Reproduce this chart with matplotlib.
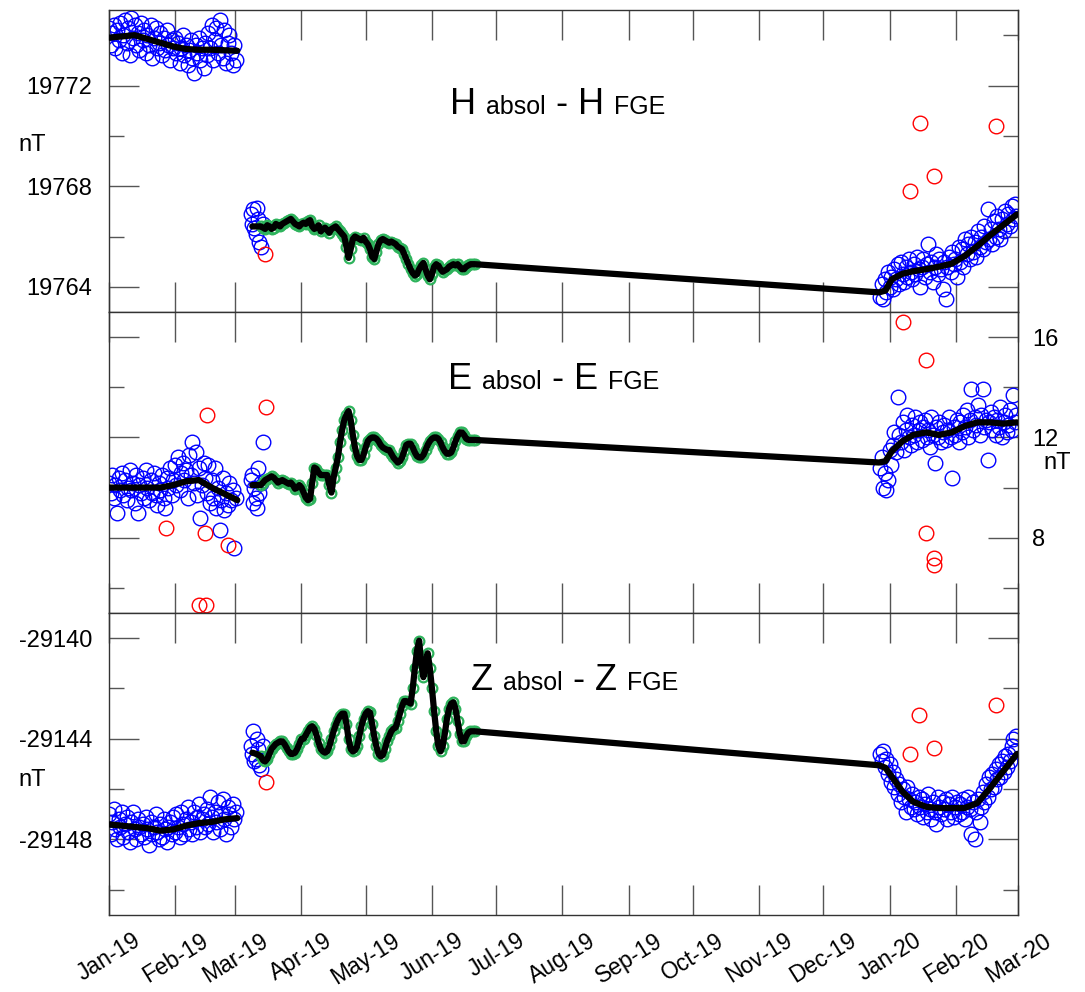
import datetime as dt
import numpy as np
import matplotlib
matplotlib.use('Agg')
import matplotlib.pyplot as plt
import matplotlib.dates as mdates
from matplotlib.ticker import MultipleLocator
from matplotlib import transforms

plt.rcParams['font.family'] = ['Liberation Sans', 'DejaVu Sans']

START = dt.datetime(2019, 1, 1)
END = dt.datetime(2020, 3, 1)

# observation times, in days since 1 Jan 2019
days_a = np.arange(0, 59.5, 0.75)          # Jan-Feb 2019 absolute obs (80)
days_b = [66.5, 67, 67.5, 68, 68.5, 69, 69.5, 70, 71, 72]
days_c = np.arange(360.5, 424.5, 0.75)     # Jan-Feb 2020 absolute obs (86)
days_green = np.arange(71, 172)            # daily baseline Mar-Jun 2019 (101)
days_pre = [67, 69]
days_fit_a = [0, 6, 12, 18, 24, 30, 36, 42, 48, 54, 60]
days_fit_c = [360, 363, 366, 371, 376, 382, 388, 394, 400, 406, 412, 418, 424.5]

# ---------------- H ----------------
h_a = [19774.3, 19773.6, 19774.1, 19774.4, 19773.5, 19774.2, 19773.8, 19774.5, 19773.3, 19774.0, 19774.6,
       19773.7, 19774.3, 19773.2, 19774.7, 19773.9, 19774.4, 19773.6, 19774.1, 19773.4, 19774.5,
       19773.8, 19774.2, 19773.3, 19774.0, 19773.6, 19774.4, 19773.1, 19773.9, 19774.3, 19773.5,
       19773.7, 19774.1, 19773.2, 19773.9, 19773.4, 19774.2, 19773.6, 19773.0, 19773.8, 19773.5,
       19773.9, 19773.3, 19773.7, 19772.9, 19773.5, 19774.0, 19773.2, 19773.6, 19772.8, 19773.4,
       19773.8, 19773.1, 19772.5, 19773.6, 19773.3, 19773.9, 19773.0, 19773.5, 19772.7, 19773.7,
       19773.2, 19774.1, 19773.5, 19774.4, 19773.0, 19773.8, 19774.3, 19773.3, 19774.6, 19773.6,
       19773.1, 19774.2, 19772.9, 19773.7, 19774.0, 19773.3, 19772.8, 19773.6, 19773.0]
h_b = [19766.9, 19766.5, 19767.1, 19766.35, 19766.1, 19767.15, 19766.7, 19765.8, 19765.6, 19766.5]
h_c = [19763.6, 19764.1, 19763.5, 19764.3, 19763.8, 19764.6, 19764.0, 19764.4, 19763.9, 19764.7,
       19764.3, 19764.9, 19764.1, 19765.0, 19764.5, 19764.2, 19764.8, 19764.4, 19765.1, 19764.6,
       19764.3, 19764.9, 19764.5, 19765.2, 19764.7, 19764.0, 19764.8, 19765.1, 19764.4, 19764.9,
       19765.7, 19764.6, 19765.0, 19764.2, 19764.8, 19765.3, 19764.5, 19765.1, 19764.7, 19763.9,
       19765.0, 19763.5, 19764.8, 19765.2, 19764.6, 19765.4, 19764.9, 19765.1, 19764.4, 19765.6,
       19765.0, 19765.5, 19764.8, 19765.9, 19765.3, 19765.7, 19765.1, 19766.0, 19765.4, 19765.8,
       19765.2, 19766.2, 19765.6, 19766.0, 19765.5, 19766.4, 19765.8, 19767.1, 19765.9, 19766.3,
       19765.7, 19766.6, 19766.0, 19766.8, 19766.3, 19765.9, 19766.7, 19766.2, 19767.0, 19766.5,
       19766.9, 19766.4, 19767.2, 19766.7, 19767.3, 19766.8]
h_green = [19766.4, 19766.35, 19766.3, 19766.45, 19766.4, 19766.3, 19766.35, 19766.5, 19766.45, 19766.4,
           19766.5, 19766.55, 19766.6, 19766.65, 19766.7, 19766.6, 19766.5, 19766.45, 19766.4, 19766.5,
           19766.55, 19766.5, 19766.6, 19766.65, 19766.4, 19766.3, 19766.35, 19766.45, 19766.2, 19766.3,
           19766.35, 19766.25, 19766.15, 19766.3, 19766.35, 19766.4, 19766.3, 19766.2, 19766.1, 19766.0,
           19765.6, 19765.15, 19765.5, 19765.9, 19766.0, 19765.95, 19765.9, 19765.85, 19765.95, 19765.8,
           19765.7, 19765.5, 19765.2, 19765.1, 19765.4, 19765.7, 19765.85, 19765.9, 19765.85, 19765.8,
           19765.75, 19765.8, 19765.75, 19765.7, 19765.6, 19765.55, 19765.5, 19765.3, 19765.1, 19764.9,
           19764.7, 19764.55, 19764.45, 19764.5, 19764.7, 19764.85, 19764.95, 19764.7, 19764.45, 19764.3,
           19764.5, 19764.8, 19764.9, 19764.85, 19764.7, 19764.6, 19764.65, 19764.7, 19764.8, 19764.85,
           19764.9, 19764.85, 19764.9, 19764.8, 19764.7, 19764.7, 19764.8, 19764.85, 19764.9, 19764.9, 19764.9]
h_pre = [19766.4, 19766.4]
h_fit_a = [19773.9, 19773.95, 19774.0, 19773.85, 19773.7, 19773.55, 19773.45, 19773.42, 19773.42, 19773.4, 19773.38]
h_fit_c = [19763.78, 19763.85, 19764.3, 19764.52, 19764.62, 19764.7, 19764.8, 19764.92, 19765.22, 19765.62,
           19766.05, 19766.45, 19766.88]
h_red_days = [72.9, 379.1, 374.5, 385.7, 414.7]
h_red = [19765.3, 19770.5, 19767.8, 19768.4, 19770.4]

# ---------------- E ----------------
e_a = [10.2, 9.8, 10.5, 9.6, 10.1, 9.0, 10.4, 9.9, 10.6, 9.7, 10.3,
       9.5, 10.0, 10.7, 9.9, 10.2, 9.4, 10.5, 9.0, 10.1, 9.8,
       10.4, 9.6, 10.7, 10.0, 9.5, 10.3, 9.8, 10.6, 9.7, 9.3,
       10.2, 9.9, 10.5, 9.6, 9.2, 10.4, 10.0, 10.8, 9.7, 10.3,
       10.9, 10.1, 11.2, 9.9, 10.6, 11.0, 10.3, 10.7, 9.6, 11.3,
       10.5, 11.8, 10.2, 11.4, 9.7, 10.8, 8.8, 10.1, 11.0, 10.4,
       9.8, 10.9, 9.4, 10.3, 9.6, 10.8, 9.2, 10.0, 8.3, 9.5,
       10.4, 9.1, 9.8, 9.3, 10.2, 9.5, 9.9, 7.6, 9.6]
e_b = [10.3, 10.5, 9.4, 10.0, 9.6, 9.2, 10.8, 9.8, 10.2, 11.8]
e_c = [10.8, 11.2, 10.0, 10.6, 9.9, 10.3, 11.5, 10.9, 11.7, 12.2,
       11.4, 13.6, 12.1, 11.8, 12.6, 11.5, 12.3, 12.9, 12.0, 11.7,
       12.5, 12.1, 12.8, 11.8, 12.3, 12.6, 11.9, 12.4, 12.7, 12.0,
       12.3, 11.6, 12.8, 12.1, 11.0, 12.4, 12.0, 12.6, 11.8, 12.2,
       12.5, 11.9, 12.3, 12.8, 12.0, 10.4, 12.4, 12.1, 12.7, 11.8,
       12.6, 12.2, 12.9, 12.4, 13.1, 12.0, 12.7, 13.95, 12.3, 12.8,
       12.5, 13.3, 12.1, 12.9, 13.95, 12.4, 12.7, 11.1, 12.6, 13.0,
       12.3, 12.8, 12.1, 12.7, 12.4, 13.2, 12.0, 12.6, 12.9, 12.2,
       12.5, 13.1, 12.3, 13.7, 12.6, 12.9]
e_green = [10.1, 10.2, 10.3, 10.35, 10.4, 10.45, 10.4, 10.3, 10.2, 10.25,
           10.3, 10.25, 10.2, 10.15, 10.2, 10.1, 9.95, 10.0, 10.1, 10.0,
           9.8, 9.6, 9.5, 9.55, 10.2, 10.8, 10.75, 10.6, 10.5, 10.5,
           10.5, 10.5, 10.1, 9.8, 10.4, 10.8, 11.2, 11.8, 12.3, 12.7,
           12.9, 13.05, 12.7, 12.1, 11.6, 11.25, 11.1, 11.1, 11.3, 11.6,
           11.85, 11.95, 12.0, 12.0, 11.95, 11.85, 11.7, 11.6, 11.55, 11.5,
           11.5, 11.35, 11.2, 11.1, 11.0, 11.05, 11.2, 11.45, 11.7, 11.75,
           11.75, 11.6, 11.4, 11.25, 11.2, 11.2, 11.3, 11.5, 11.7, 11.85,
           11.95, 12.0, 12.0, 11.95, 11.8, 11.6, 11.45, 11.35, 11.35, 11.4,
           11.6, 11.85, 12.05, 12.2, 12.2, 12.1, 11.95, 11.9, 11.9, 11.9, 11.9]
e_pre = [10.1, 10.1]
e_fit_a = [10.0, 10.0, 10.0, 10.0, 10.0, 10.1, 10.25, 10.3, 10.0, 9.75, 9.5]
e_fit_c = [11.0, 11.05, 11.45, 11.85, 12.1, 12.2, 12.1, 12.2, 12.45, 12.6, 12.6, 12.55, 12.6]
e_red_days = [26.6, 45.8, 44.9, 55.6, 42.1, 45.3, 73.4, 371.2, 382, 382, 385.7, 385.7]
e_red = [8.4, 12.9, 8.2, 7.7, 5.3, 5.3, 13.2, 16.6, 15.1, 8.2, 7.2, 6.9]

# ---------------- Z ----------------
z_a = [-29147.0, -29147.8, -29147.3, -29146.8, -29147.6, -29148.0, -29147.2, -29147.5, -29146.9, -29147.9, -29147.4,
       -29147.1, -29147.7, -29148.1, -29147.3, -29146.9, -29147.6, -29148.0, -29147.2, -29147.5, -29147.8,
       -29147.4, -29147.9, -29147.1, -29147.6, -29148.2, -29147.3, -29147.8, -29147.5, -29147.0, -29147.7,
       -29148.0, -29147.4, -29147.9, -29147.2, -29147.6, -29148.1, -29147.5, -29147.3, -29147.8, -29147.1,
       -29147.7, -29147.0, -29147.5, -29147.9, -29146.9, -29147.4, -29147.8, -29147.2, -29146.7, -29147.6,
       -29147.3, -29147.8, -29146.9, -29147.5, -29147.1, -29146.6, -29147.7, -29147.2, -29147.0, -29147.5,
       -29146.8, -29147.4, -29146.3, -29147.1, -29147.7, -29146.9, -29147.3, -29146.5, -29147.6, -29147.0,
       -29146.4, -29147.2, -29147.8, -29146.7, -29147.0, -29147.5, -29146.6, -29147.2, -29146.9]
z_b = [-29144.3, -29144.6, -29143.7, -29144.9, -29144.8, -29144.0, -29144.4, -29145.05, -29145.2, -29144.3]
z_c = [-29144.6, -29144.9, -29144.5, -29145.1, -29144.8, -29145.4, -29145.0, -29145.7, -29145.3, -29145.9,
       -29145.6, -29146.2, -29145.8, -29146.5, -29146.0, -29146.3, -29146.9, -29145.9, -29146.4, -29146.7,
       -29146.2, -29146.8, -29146.5, -29147.0, -29146.3, -29146.7, -29146.4, -29147.1, -29146.6, -29146.9,
       -29146.2, -29146.8, -29147.2, -29146.5, -29146.9, -29147.4, -29146.3, -29146.7, -29147.0, -29146.5,
       -29146.8, -29146.4, -29147.2, -29146.6, -29146.9, -29146.3, -29147.1, -29146.7, -29146.5, -29147.0,
       -29146.6, -29146.9, -29146.4, -29147.2, -29146.7, -29146.3, -29146.8, -29147.8, -29146.5, -29148.0,
       -29146.9, -29146.4, -29147.3, -29146.7, -29146.1, -29146.5, -29145.8, -29146.3, -29145.5, -29146.0,
       -29145.4, -29145.9, -29145.2, -29145.6, -29145.0, -29145.5, -29144.9, -29145.3, -29144.7, -29145.1,
       -29144.6, -29144.9, -29144.3, -29144.0, -29144.5, -29143.9]
z_green = [-29144.7, -29144.85, -29144.9, -29144.8, -29144.6, -29144.4, -29144.3, -29144.2, -29144.15, -29144.1,
           -29144.1, -29144.2, -29144.35, -29144.5, -29144.6, -29144.6, -29144.55, -29144.4, -29144.2, -29144.0,
           -29144.0, -29143.85, -29143.7, -29143.55, -29143.5, -29143.6, -29143.85, -29144.15, -29144.4, -29144.5,
           -29144.55, -29144.5, -29144.3, -29144.0, -29143.7, -29143.45, -29143.25, -29143.1, -29143.0, -29143.0,
           -29143.4, -29144.0, -29144.4, -29144.5, -29144.45, -29144.3, -29143.9, -29143.5, -29143.2, -29143.0,
           -29142.9, -29142.95, -29143.4, -29143.9, -29144.3, -29144.6, -29144.7, -29144.65, -29144.4, -29144.1,
           -29143.9, -29143.7, -29143.6, -29143.55, -29143.3, -29143.0, -29142.7, -29142.5, -29142.5, -29142.55,
           -29142.6, -29142.0, -29141.2, -29140.5, -29140.1, -29141.0, -29141.55, -29141.0, -29140.6, -29141.2,
           -29142.0, -29142.9, -29143.7, -29144.3, -29144.5, -29144.3, -29143.8, -29143.2, -29142.8, -29142.6,
           -29142.55, -29142.8, -29143.3, -29143.8, -29144.1, -29144.1, -29143.9, -29143.75, -29143.7, -29143.7, -29143.7]
z_pre = [-29144.55, -29144.6]
z_fit_a = [-29147.4, -29147.45, -29147.5, -29147.55, -29147.65, -29147.6, -29147.45, -29147.35, -29147.3, -29147.2, -29147.15]
z_fit_c = [-29145.05, -29145.15, -29145.5, -29146.1, -29146.5, -29146.7, -29146.75, -29146.75, -29146.75,
           -29146.55, -29145.95, -29145.3, -29144.6]
z_red_days = [73.4, 378.7, 374.5, 385.7, 414.7]
z_red = [-29145.7, -29143.05, -29144.6, -29144.35, -29142.65]

panels = [
    dict(name='H', a=h_a, b=h_b, c=h_c, green=h_green, pre=h_pre, fit_a=h_fit_a, fit_c=h_fit_c,
         red_days=h_red_days, red=h_red, ylim=(19763, 19775), side='left',
         title_pos=(0.375, 0.656), nt_pos=(-0.085, 0.553)),
    dict(name='E', a=e_a, b=e_b, c=e_c, green=e_green, pre=e_pre, fit_a=e_fit_a, fit_c=e_fit_c,
         red_days=e_red_days, red=e_red, ylim=(5, 17), side='right',
         title_pos=(0.373, 0.744), nt_pos=(1.043, 0.498)),
    dict(name='Z', a=z_a, b=z_b, c=z_c, green=z_green, pre=z_pre, fit_a=z_fit_a, fit_c=z_fit_c,
         red_days=z_red_days, red=z_red, ylim=(-29151, -29139), side='left',
         title_pos=(0.398, 0.745), nt_pos=(-0.085, 0.447)),
]

t0 = mdates.date2num(START)


def tx(days):
    return t0 + np.asarray(days, dtype=float)


def draw_title(ax, x, y, letter):
    fig = ax.figure
    r = fig.canvas.get_renderer()
    tr = ax.transAxes
    parts = [(letter, 26), ('absol', 18), ('-', 26), (letter, 26), ('FGE', 18)]
    for s, size in parts:
        t = ax.text(x, y, s, transform=tr, fontsize=size, ha='left', va='baseline')
        w = t.get_window_extent(renderer=r).width
        tr = transforms.offset_copy(t.get_transform(), fig=fig, x=w + 10, units='dots')


fig = plt.figure(figsize=(10.85, 9.92), dpi=100)
left, width = 109 / 1085, 909 / 1085
bounds = [(1 - 312 / 992, 302 / 992), (1 - 613 / 992, 301 / 992), (1 - 915 / 992, 302 / 992)]

blue_kw = dict(ls='none', marker='o', ms=10.5, mfc='none', mec='#0000ff', mew=1.0)
red_kw = dict(ls='none', marker='o', ms=10.5, mfc='none', mec='#ff0000', mew=1.0)
green_kw = dict(ls='none', marker='o', ms=7, mfc='none', mec='#2eb35c', mew=1.6)
line_kw = dict(color='black', lw=4.5, solid_capstyle='round', solid_joinstyle='round')

axes = []
for p, (bot, h) in zip(panels, bounds):
    ax = fig.add_axes([left, bot, width, h], sharex=axes[0] if axes else None)
    axes.append(ax)

    ax.plot(tx(days_a), p['a'], **blue_kw, zorder=2)
    ax.plot(tx(days_b), p['b'], **blue_kw, zorder=2)
    ax.plot(tx(days_c), p['c'], **blue_kw, zorder=2)
    ax.plot(tx(days_green), p['green'], **green_kw, zorder=3)
    ax.plot(tx(p['red_days']), p['red'], **red_kw, zorder=2)

    ax.plot(tx(days_fit_a), p['fit_a'], **line_kw, zorder=4)
    line_days = list(days_pre) + list(days_green) + list(days_fit_c)
    line_vals = list(p['pre']) + list(p['green']) + list(p['fit_c'])
    ax.plot(tx(line_days), line_vals, **line_kw, zorder=4)

    ax.set_ylim(*p['ylim'])
    ax.set_xlim(mdates.date2num(START), mdates.date2num(END))
    ax.yaxis.set_major_locator(MultipleLocator(4))
    ax.yaxis.set_minor_locator(MultipleLocator(2))
    ax.yaxis.set_major_formatter(plt.FuncFormatter(lambda v, pos: '%d' % round(v)))

    for s in ax.spines.values():
        s.set_color('#333333')
        s.set_linewidth(1.0)

    ax.tick_params(axis='x', which='major', direction='in', length=21.6, width=1,
                   color='#555555', top=True, bottom=True)
    ax.tick_params(axis='y', which='major', direction='in', length=21.6, width=1,
                   color='#555555', left=True, right=True, labelsize=17)
    ax.tick_params(axis='y', which='minor', direction='in', length=10.8, width=1,
                   color='#555555', left=True, right=True)
    if p['side'] == 'right':
        ax.tick_params(axis='y', labelleft=False, labelright=True, pad=10)
    else:
        ax.tick_params(axis='y', pad=12)

    draw_title(ax, p['title_pos'][0], p['title_pos'][1], p['name'])
    ax.text(p['nt_pos'][0], p['nt_pos'][1], 'nT', transform=ax.transAxes,
            fontsize=17, ha='center', va='center')

axes[0].xaxis.set_major_locator(mdates.MonthLocator())
axes[0].xaxis.set_major_formatter(mdates.DateFormatter('%b-%y'))
for ax in axes[:-1]:
    ax.tick_params(axis='x', labelbottom=False)
axes[-1].tick_params(axis='x', labelsize=16.5, pad=10, labelrotation=32)
for lab in axes[-1].get_xticklabels():
    lab.set_ha('center')

fig.savefig('out.png', dpi=100)
